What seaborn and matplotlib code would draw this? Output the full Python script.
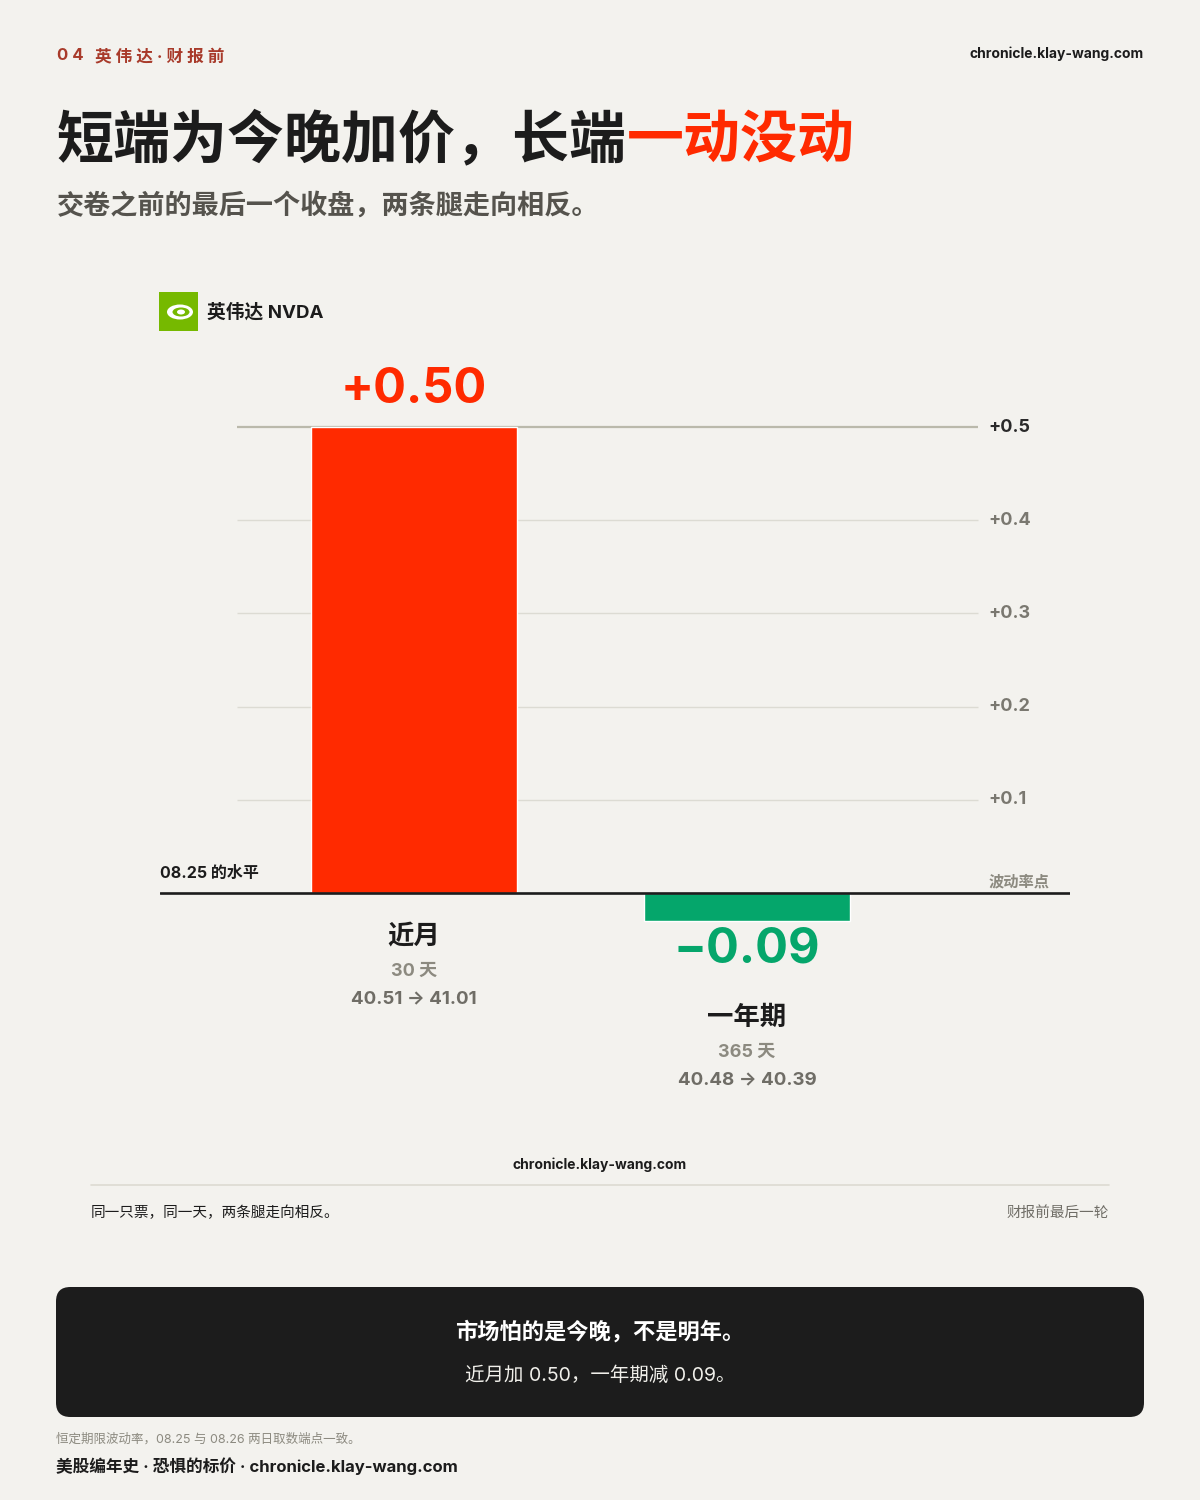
import numpy as np
import matplotlib
matplotlib.use("Agg")
import matplotlib.pyplot as plt
import seaborn as sns
from matplotlib.patches import FancyBboxPatch, Ellipse, Rectangle
from matplotlib.lines import Line2D

# data
categories = ["近月", "一年期"]
changes = [0.50, -0.09]
value_labels = ["+0.50", "\u22120.09"]
days = ["30 天", "365 天"]
ranges = ["40.51 → 41.01", "40.48 → 40.39"]
ticks = [0.1, 0.2, 0.3, 0.4, 0.5]
tick_labels = ["+0.1", "+0.2", "+0.3", "+0.4", "+0.5"]

BG = "#f3f2ee"
RED = "#ff2a00"
GREEN = "#05a66b"
DARK = "#1c1c1c"
GRAY = "#8c8a80"
GRAY2 = "#6f6d66"

sns.set_style("white")
plt.rcParams["font.family"] = ["Inter", "Noto Sans CJK SC", "DejaVu Sans"]
plt.rcParams["axes.unicode_minus"] = True

W, H = 1200, 1500
fig = plt.figure(figsize=(12, 15), dpi=100, facecolor=BG)


def fx(x):
    return x / W


def fy(y):
    return 1 - y / H


def ftext(x, y, s, **kw):
    kw.setdefault("va", "center")
    return fig.text(fx(x), fy(y), s, **kw)


# header
ftext(57, 56, "0 4", color="#a83a2a", fontsize=12, fontweight="bold")
ftext(95, 56, "英 伟 达 · 财 报 前", color="#a83a2a", fontsize=12, fontweight="bold")
ftext(1144, 54, "chronicle.klay-wang.com", color=DARK, fontsize=10, fontweight="bold", ha="right")

# title in two colours
t1 = ftext(57, 140, "短端为今晚加价，长端", color=DARK, fontsize=41, fontweight="bold",
           family=["Noto Sans CJK SC"])
fig.canvas.draw()
bb = t1.get_window_extent()
fig.text(bb.x1 / W, fy(140), "一动没动", color=RED, fontsize=41, fontweight="bold",
         family=["Noto Sans CJK SC"], va="center")
ftext(57, 206, "交卷之前的最后一个收盘，两条腿走向相反。", color="#55534d", fontsize=19.5,
      fontweight="bold", family=["Noto Sans CJK SC"])

# logo
fig.patches.append(Rectangle((fx(159), fy(331)), 39 / W, 39 / H, transform=fig.transFigure,
                             facecolor="#76b900", edgecolor="none"))
fig.patches.append(Ellipse((fx(180), fy(312)), 26 / W, 15 / H, transform=fig.transFigure,
                           facecolor="white", edgecolor="none"))
fig.patches.append(Ellipse((fx(181), fy(312)), 17 / W, 9 / H, transform=fig.transFigure,
                           facecolor="#76b900", edgecolor="none"))
fig.patches.append(Ellipse((fx(181), fy(312)), 8 / W, 5 / H, transform=fig.transFigure,
                           facecolor="white", edgecolor="none"))
ftext(207, 312, "英伟达 NVDA", color=DARK, fontsize=13.5, fontweight="bold")

# chart axes: pixel box 160..1070 x, y from 380 to 986
ax = fig.add_axes([fx(160), fy(986.2), 910 / W, 605.8 / H])
ax.set_facecolor("none")

sns.barplot(x=categories, y=changes, hue=categories, palette=[RED, GREEN],
            legend=False, width=0.619, ax=ax, saturation=1, zorder=3)


def fwd(y):
    y = np.asarray(y, dtype=float)
    return np.where(y < 0, y / 3, y)


def inv(y):
    y = np.asarray(y, dtype=float)
    return np.where(y < 0, y * 3, y)


ax.set_yscale("function", functions=(fwd, inv))
ax.set_ylim(-0.3, 0.55)
ax.set_xlim(-0.763, 1.970)
ax.set_xticks([])
ax.set_yticks([])
ax.set_xlabel("")
ax.set_ylabel("")
for s in ax.spines.values():
    s.set_visible(False)

for t, lab in zip(ticks, tick_labels):
    top = t == ticks[-1]
    ax.hlines(t, -0.532, 1.694, color="#bab9ab" if top else "#dcdbd3",
              lw=1.6 if top else 1.0, zorder=1)
    ax.text(1.724, t, lab, color="#2a2a2a" if top else "#7a7870", fontsize=13,
            fontweight="bold", va="center", ha="left")

ax.axhline(0, color=DARK, lw=1.9, zorder=4)
ax.annotate("08.25 的水平", (-0.763, 0), xytext=(0, 14), textcoords="offset points",
            fontsize=11.5, fontweight="bold", color=DARK, ha="left", va="center")
ax.annotate("波动率点", (1.724, 0), xytext=(0, 8), textcoords="offset points",
            fontsize=11, fontweight="bold", color=GRAY, ha="left", va="center")

pt = 72 / 100
for i, (v, vl, name, d, r) in enumerate(zip(changes, value_labels, categories, days, ranges)):
    col = RED if v > 0 else GREEN
    if v > 0:
        ax.annotate(vl, (i, v), xytext=(0, 37 * pt), textcoords="offset points",
                    ha="center", va="center", fontsize=35, fontweight="bold", color=col)
        extra = 0
    else:
        ax.annotate(vl, (i, v), xytext=(0, -29 * pt), textcoords="offset points",
                    ha="center", va="center", fontsize=35, fontweight="bold", color=col)
        extra = 81
    ax.annotate(name, (i, 0), xytext=(0, -(43 + extra) * pt), textcoords="offset points",
                ha="center", va="center", fontsize=19, fontweight="bold", color=DARK,
                family=["Noto Sans CJK SC"])
    ax.annotate(d, (i, 0), xytext=(0, -(78 + extra) * pt), textcoords="offset points",
                ha="center", va="center", fontsize=13, fontweight="bold", color=GRAY)
    ax.annotate(r, (i, 0), xytext=(0, -(106 + extra) * pt), textcoords="offset points",
                ha="center", va="center", fontsize=13.5, fontweight="bold", color=GRAY2)

# footer
ftext(600, 1165, "chronicle.klay-wang.com", color=DARK, fontsize=10, fontweight="bold", ha="center")
fig.lines.append(Line2D([fx(91), fx(1109)], [fy(1185), fy(1185)], transform=fig.transFigure,
                        color="#dddbd2", lw=1.2))
ftext(91, 1213, "同一只票，同一天，两条腿走向相反。", color=DARK, fontsize=10.5)
ftext(1109, 1213, "财报前最后一轮", color=GRAY2, fontsize=10.5, ha="right")

# dark box
fig.patches.append(FancyBboxPatch((fx(56), fy(1417)), 1088 / W, 130 / H,
                                  boxstyle="round,pad=0,rounding_size=0.012",
                                  mutation_aspect=0.8,
                                  transform=fig.transFigure, facecolor=DARK, edgecolor="none"))
ftext(600, 1331, "市场怕的是今晚，不是明年。", color="white", fontsize=16, fontweight="bold",
      ha="center")
ftext(600, 1376, "近月加 0.50，一年期减 0.09。", color="#f0efea", fontsize=14, ha="center")

ftext(56, 1439, "恒定期限波动率，08.25 与 08.26 两日取数端点一致。", color=GRAY, fontsize=9)
ftext(56, 1466, "美股编年史 · 恐惧的标价 · chronicle.klay-wang.com", color=DARK, fontsize=12,
      fontweight="bold")

fig.savefig("out.png", dpi=100, facecolor=BG)
